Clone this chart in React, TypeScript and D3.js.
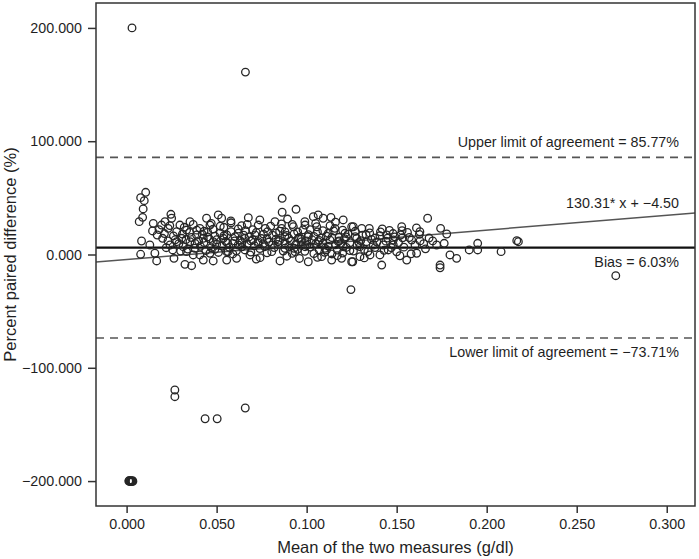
import { useEffect, useRef } from 'react';
import * as d3 from 'd3';

// Bland-Altman style plot: mean of two measures vs percent paired difference

const xTicks = [0, 0.05, 0.1, 0.15, 0.2, 0.25, 0.3];
const yTicks = [-200, -100, 0, 100, 200];

const upperLimit = 85.77;
const lowerLimit = -73.71;
const bias = 6.03;
const slope = 130.31;
const intercept = -4.5;

// far-off points
const outlierPoints: [number, number][] = [
  [0.003, 200], [0.066, 161],
  [0.0012, -200], [0.0015, -199.5], [0.0018, -200.5], [0.0021, -200], [0.0024, -199.6],
  [0.0027, -200.4], [0.003, -200], [0.0033, -199.7], [0.0035, -200.2],
  [0.0268, -119.6], [0.0268, -125.5], [0.0436, -145], [0.0503, -145], [0.0659, -135.5],
  [0.1246, -31], [0.2717, -18.7],
];

// points on the right tail
const tailPoints: [number, number][] = [
  [0.195, 9.9], [0.195, 4.0], [0.1903, 4.0], [0.208, 2.5], [0.2167, 12.2], [0.2176, 11.3],
  [0.1672, 32.0], [0.1528, 24.5], [0.1744, 23.1], [0.1778, 18.1], [0.1629, 20.1], [0.1626, 17.8],
  [0.1583, 12.8], [0.1602, 8.4], [0.1522, 17.2], [0.1533, 14.8], [0.1407, 16.6], [0.1444, 17.2],
  [0.1481, 12.8], [0.1481, 8.4], [0.1722, 8.4], [0.1764, 9.9], [0.1611, 1.1], [0.1518, -1.1],
  [0.1556, -4.9], [0.1417, -9.3], [0.1407, -0.4], [0.1352, -0.4], [0.1296, -1.9], [0.1256, -6.4],
  [0.1796, -0.4], [0.1833, -3.4], [0.1741, -9.3], [0.1741, -11.7], [0.1259, 24.5], [0.1306, 23.1],
  [0.1348, 23.1], [0.1278, 14.3], [0.1333, 11.3], [0.1296, 6.9], [0.137, 8.4], [0.1426, 8.4],
  [0.1453, 4.0],
];

// left column and main cluster
const clusterPoints: [number, number][] = [
  [0.0106, 54.9], [0.0078, 50.2], [0.0098, 47.5], [0.0092, 40.2], [0.0089, 32.8], [0.007, 29.0],
  [0.0083, 11.9], [0.0078, 0.2],
  [0.0148, 27.5], [0.0246, 35.5], [0.025, 32.0], [0.0144, 20.8], [0.0194, 26.0], [0.0231, 23.1],
  [0.017, 17.2], [0.02, 14.3], [0.0129, 8.4], [0.0157, 1.1], [0.0167, -5.7], [0.0256, 4.0],
  [0.0263, -3.4], [0.0324, -8.7], [0.0361, -9.9], [0.0296, 26.0], [0.0333, 21.6], [0.0306, 14.3],
  [0.0352, 11.3], [0.0379, 5.5], [0.0407, -0.4], [0.0426, -4.9], [0.0481, -5.7], [0.0444, 32.0],
  [0.0463, 26.0], [0.0509, 34.9], [0.0528, 32.0], [0.0278, 11.3], [0.0314, 6.9], [0.0389, 17.2],
  [0.0426, 14.3], [0.0481, 11.3], [0.0537, 14.3], [0.0556, 2.5], [0.037, -0.4], [0.0333, 2.5],
  [0.0463, 1.1], [0.0407, 23.1], [0.0352, 29.0], [0.0213, 29.0], [0.0241, 8.4], [0.0278, 20.1],
  [0.0864, 49.6], [0.0864, 37.3], [0.0941, 39.9], [0.0894, 31.3], [0.0579, 29.6], [0.0676, 32.5],
  [0.0639, 25.4], [0.0731, 26.0], [0.0824, 29.0], [0.0783, 20.1], [0.0861, 23.1], [0.0926, 24.5],
  [0.0991, 26.0], [0.1037, 33.4], [0.1064, 34.9], [0.1092, 32.0], [0.1135, 32.8], [0.1203, 30.5],
  [0.125, 24.5], [0.1056, 24.5], [0.1157, 23.1], [0.112, 18.7], [0.1213, 18.7], [0.1009, 15.7],
  [0.0953, 14.3], [0.0879, 15.7], [0.0713, 17.2], [0.0657, 14.3], [0.0602, 15.7], [0.0556, 17.2],
  [0.0564, 2.5], [0.0556, -4.9], [0.0611, -3.4], [0.0685, -0.4], [0.0741, -2.8], [0.0852, -5.7],
  [0.0935, 2.5], [0.1009, -6.4], [0.1083, -1.9], [0.1139, -4.9], [0.1194, -3.4], [0.125, -6.4],
  [0.0806, 2.5], [0.0657, 4.0], [0.0768, 6.9], [0.0879, 5.5], [0.0991, 6.9], [0.1102, 5.5],
  [0.1203, 6.9], [0.0731, 11.3], [0.0842, 11.3], [0.0972, 11.3], [0.1064, 11.3], [0.1176, 11.3],
  [0.062, 8.4],
  [0.021, 18.5], [0.023, 12.0], [0.026, 16.4], [0.029, 9.5], [0.031, 18.0], [0.033, 13.2],
  [0.034, 4.8], [0.036, 15.0], [0.038, 9.8], [0.039, 21.5], [0.041, 7.2], [0.042, 17.9],
  [0.043, 10.6], [0.044, 3.5], [0.045, 19.7], [0.046, 13.8], [0.047, 6.0], [0.048, 22.4],
  [0.049, 16.1], [0.05, 9.0], [0.051, 1.8], [0.052, 19.0], [0.053, 7.5], [0.054, 24.0],
  [0.055, 11.6], [0.057, 6.3], [0.058, 20.2], [0.059, 9.7], [0.061, 3.2], [0.062, 18.8],
  [0.063, 12.4], [0.064, 6.8], [0.066, 21.0], [0.067, 9.2], [0.068, 15.5], [0.069, 2.1],
  [0.07, 12.9], [0.071, 7.8], [0.072, 19.4], [0.074, 5.2], [0.075, 14.1], [0.076, 9.6],
  [0.077, 23.0], [0.078, 1.5], [0.079, 11.0], [0.081, 17.0], [0.082, 6.1], [0.083, 13.5],
  [0.084, 8.9], [0.085, 20.6], [0.087, 3.0], [0.088, 10.2], [0.089, 16.8], [0.09, 7.1],
  [0.091, 12.0], [0.092, 1.0], [0.093, 18.2], [0.094, 9.0], [0.095, 4.6], [0.096, 15.0],
  [0.097, 8.0], [0.098, 21.8], [0.099, 2.8], [0.1, 11.9], [0.101, 17.5], [0.102, 6.6],
  [0.103, 13.0], [0.104, 0.8], [0.105, 9.4], [0.106, 19.9], [0.107, 4.0], [0.108, 14.6],
  [0.109, 9.9], [0.11, 1.9], [0.111, 16.3], [0.112, 7.4], [0.113, 12.7], [0.114, 0.5],
  [0.115, 20.8], [0.116, 8.6], [0.117, 3.9], [0.118, 15.2], [0.119, 9.8], [0.12, 1.2],
  [0.121, 13.9], [0.122, 6.2], [0.123, 18.0], [0.124, 10.4], [0.126, 3.0], [0.127, 15.8],
  [0.128, 8.1], [0.13, 12.2], [0.132, 4.5], [0.133, 17.6], [0.134, 2.6], [0.136, 13.3],
  [0.138, 6.1], [0.139, 11.0], [0.141, 20.0], [0.143, 3.7], [0.144, 11.8], [0.146, 21.2],
  [0.147, 6.0], [0.149, 15.6], [0.15, 2.4], [0.151, 10.5], [0.154, 6.5], [0.156, 19.5],
  [0.158, 0.6], [0.163, 12.0], [0.166, 5.0], [0.168, 14.5],
  [0.018, 22.0], [0.022, 6.0], [0.024, 25.5], [0.027, 13.0], [0.03, 3.0], [0.032, 24.0],
  [0.035, 19.5], [0.037, 26.5], [0.04, 12.0], [0.043, 20.5], [0.045, 15.5], [0.047, 27.5],
  [0.049, 4.5], [0.05, 13.0], [0.052, 25.0], [0.054, 16.5], [0.056, 10.0], [0.058, 28.0],
  [0.06, 12.0], [0.062, 22.5], [0.064, 10.5], [0.065, 17.0], [0.067, 26.5], [0.069, 12.0],
  [0.07, 22.0], [0.073, 10.0], [0.074, 30.5], [0.076, 18.0], [0.078, 14.0], [0.08, 25.0],
  [0.081, 8.5], [0.083, 19.0], [0.085, 12.5], [0.086, 27.0], [0.088, 20.0], [0.09, 14.5],
  [0.092, 26.5], [0.093, 5.5], [0.095, 20.0], [0.097, 13.5], [0.099, 29.0], [0.1, 8.0],
  [0.102, 22.0], [0.104, 16.0], [0.105, 27.5], [0.107, 12.5], [0.109, 21.0], [0.111, 4.0],
  [0.113, 25.5], [0.114, 15.0], [0.116, 28.5], [0.118, 12.0], [0.12, 21.5], [0.122, 15.5],
  [0.124, 3.5], [0.127, 20.5], [0.129, 10.5], [0.131, 17.0], [0.135, 19.0], [0.138, 14.5],
  [0.142, 22.5], [0.145, 14.5], [0.148, 18.5], [0.153, 21.0], [0.157, 15.0], [0.161, 23.5],
  [0.165, 9.5], [0.17, 12.0], [0.059, 0.5], [0.072, -4.0], [0.089, -1.5], [0.096, -3.5],
  [0.106, -2.5], [0.117, -1.0], [0.132, -3.0],
];

export default function App() {
  const ref = useRef<SVGSVGElement | null>(null);

  useEffect(() => {
    if (!ref.current) return;
    document.body.style.margin = '0';

    const svg = d3.select(ref.current);
    svg.selectAll('*').remove();

    const width = 699;
    const height = 559;
    const margin = { top: 3, right: 4, bottom: 53, left: 96 };
    const font = '"Liberation Sans", Arial, Helvetica, sans-serif';
    const ink = '#1f1f1f';

    const x = d3.scaleLinear().domain([-0.017, 0.3157]).range([margin.left, width - margin.right]);
    const y = d3.scaleLinear().domain([-222, 222]).range([height - margin.bottom, margin.top]);

    svg.attr('width', width).attr('height', height).style('background', '#fff');

    const [x0, x1] = x.range();
    const [yb, yt] = y.range();

    const plot = svg.append('g');

    // clip to frame
    svg.append('defs').append('clipPath').attr('id', 'frame')
      .append('rect').attr('x', x0).attr('y', yt).attr('width', x1 - x0).attr('height', yb - yt);
    plot.attr('clip-path', 'url(#frame)');

    // limits of agreement
    [upperLimit, lowerLimit].forEach((v) => {
      plot.append('line')
        .attr('x1', x0).attr('x2', x1)
        .attr('y1', y(v)).attr('y2', y(v))
        .attr('stroke', '#555')
        .attr('stroke-width', 1.6)
        .attr('stroke-dasharray', '8 6');
    });

    // bias
    plot.append('line')
      .attr('x1', x0).attr('x2', x1)
      .attr('y1', y(bias)).attr('y2', y(bias))
      .attr('stroke', '#111')
      .attr('stroke-width', 2.4);

    // regression line
    const [d0, d1] = x.domain();
    plot.append('line')
      .attr('x1', x(d0)).attr('x2', x(d1))
      .attr('y1', y(slope * d0 + intercept)).attr('y2', y(slope * d1 + intercept))
      .attr('stroke', '#555')
      .attr('stroke-width', 1.5);

    const allPoints = [...clusterPoints, ...tailPoints, ...outlierPoints];
    plot.selectAll('circle.pt')
      .data(allPoints)
      .join('circle')
      .attr('class', 'pt')
      .attr('cx', (d) => x(d[0]))
      .attr('cy', (d) => y(d[1]))
      .attr('r', 3.8)
      .attr('fill', 'none')
      .attr('stroke', '#262626')
      .attr('stroke-width', 1.3);

    // annotations
    const notes = [
      { text: 'Upper limit of agreement = 85.77%', v: upperLimit, dy: -10 },
      { text: '130.31* x + \u22124.50', v: slope * 0.3 + intercept, dy: -7 },
      { text: 'Bias = 6.03%', v: bias, dy: 19 },
      { text: 'Lower limit of agreement = \u221273.71%', v: lowerLimit, dy: 19 },
    ];
    notes.forEach((n) => {
      svg.append('text')
        .attr('x', x1 - 16)
        .attr('y', y(n.v) + n.dy)
        .attr('text-anchor', 'end')
        .attr('font-family', font)
        .attr('font-size', '14.3px')
        .attr('fill', ink)
        .text(n.text);
    });

    // frame
    svg.append('rect')
      .attr('x', x0).attr('y', yt)
      .attr('width', x1 - x0).attr('height', yb - yt)
      .attr('fill', 'none')
      .attr('stroke', '#333')
      .attr('stroke-width', 1.5);

    // axes
    const fmt = (d: d3.NumberValue) => d3.format('.3f')(d as number).replace('-', '\u2212');

    const yAxis = svg.append('g')
      .attr('transform', `translate(${x0},0)`)
      .call(d3.axisLeft(y).tickValues(yTicks).tickSize(8).tickPadding(6).tickSizeOuter(0).tickFormat(fmt));
    yAxis.select('.domain').remove();

    const xAxis = svg.append('g')
      .attr('transform', `translate(0,${yb})`)
      .call(d3.axisBottom(x).tickValues(xTicks).tickSize(7).tickPadding(6).tickSizeOuter(0).tickFormat(fmt));
    xAxis.select('.domain').remove();

    [yAxis, xAxis].forEach((a) => {
      a.selectAll('line').attr('stroke', '#333').attr('stroke-width', 1.5);
      a.selectAll('text')
        .attr('font-family', font)
        .attr('font-size', '14.3px')
        .attr('fill', ink);
    });

    svg.append('text')
      .attr('x', (x0 + x1) / 2)
      .attr('y', 553)
      .attr('text-anchor', 'middle')
      .attr('font-family', font)
      .attr('font-size', '16.5px')
      .attr('fill', ink)
      .text('Mean of the two measures (g/dl)');

    svg.append('text')
      .attr('transform', `translate(16,${(yt + yb) / 2}) rotate(-90)`)
      .attr('text-anchor', 'middle')
      .attr('font-family', font)
      .attr('font-size', '16.5px')
      .attr('fill', ink)
      .text('Percent paired difference (%)');
  }, []);

  return (
    <div>
      <svg ref={ref} style={{ display: 'block' }}></svg>
    </div>
  );
}
